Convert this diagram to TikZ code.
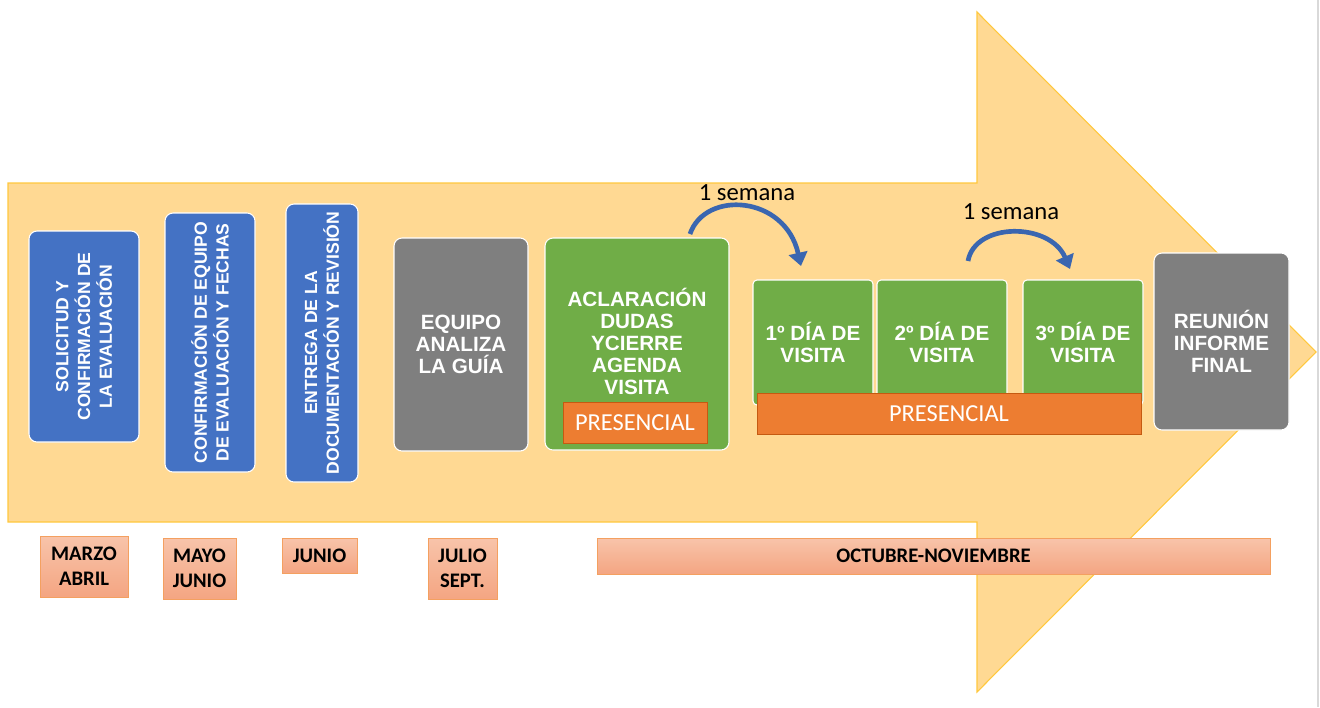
\documentclass[tikz,border=0pt]{standalone}
\usepackage{fontspec}
\setmainfont{Liberation Sans}
\newfontfamily\calibri{Carlito}
\usetikzlibrary{arrows.meta}

\definecolor{arrowfill}{HTML}{FFD993}
\definecolor{arrowedge}{HTML}{FFC83D}
\definecolor{stageblue}{HTML}{4472C4}
\definecolor{stagegray}{HTML}{7F7F7F}
\definecolor{stagegreen}{HTML}{70AD47}
\definecolor{orangefill}{HTML}{ED7D31}
\definecolor{orangeedge}{HTML}{C55A11}
\definecolor{periodtop}{HTML}{F8C4AA}
\definecolor{periodbot}{HTML}{F4A582}
\definecolor{periodedge}{HTML}{F4A060}
\definecolor{weekblue}{HTML}{3A66B0}

\tikzset{
  stage/.style={rounded corners=6pt, draw=white, line width=0.8pt, text=white,
    align=center, inner sep=0pt, font=\bfseries\fontsize{15.5}{16.5}\selectfont},
  bluestage/.style={stage, fill=stageblue, rotate=90, font=\bfseries\fontsize{13.2}{16.3}\selectfont},
  graystage/.style={stage, fill=stagegray},
  greenstage/.style={stage, fill=stagegreen},
  daystage/.style={greenstage, rounded corners=3pt},
  presencial/.style={draw=orangeedge, fill=orangefill, text=white, line width=0.6pt,
    inner sep=0pt, font=\calibri\fontsize{18.3}{19}\selectfont},
  period/.style={draw=periodedge, line width=0.6pt, top color=periodtop, bottom color=periodbot,
    align=center, inner sep=0pt, font=\calibri\bfseries\fontsize{15.5}{18.5}\selectfont},
  weekarrow/.style={draw=weekblue, line width=3.5pt, -{Triangle[length=10pt,width=14pt]}},
  weeklabel/.style={font=\calibri\fontsize{18.5}{19}\selectfont}
}

\begin{document}
\begin{tikzpicture}[x=0.75pt, y=-0.75pt]

    \useasboundingbox (0,0) rectangle (1320,707);

    % Big yellow arrow behind everything
    \draw[draw=arrowedge, fill=arrowfill, line width=0.8pt]
        (8,183) -- (977,183) -- (977,12) -- (1316,352) -- (977,692) -- (977,522) -- (8,522) -- cycle;
    \draw[black!15, line width=0.8pt] (1318,0) -- (1318,707);

    % Blue stages (vertical text)
    \node[bluestage, minimum width=158.25pt, minimum height=82.5pt] (solicitud) at (84,336.5)
        {SOLICITUD Y\\CONFIRMACIÓN DE\\LA EVALUACIÓN};
    \node[bluestage, minimum width=194.25pt, minimum height=67.5pt] (equipo) at (210,342.5)
        {CONFIRMACIÓN DE EQUIPO\\DE EVALUACIÓN Y FECHAS};
    \node[bluestage, minimum width=208.5pt, minimum height=54pt] (entrega) at (322,343)
        {ENTREGA DE LA\\DOCUMENTACIÓN Y REVISIÓN};

    % Gray and green stages
    \node[graystage, minimum width=100.5pt, minimum height=159.75pt] (analiza) at (461,344.5)
        {EQUIPO\\ANALIZA\\LA GUÍA};
    \node[greenstage, minimum width=138pt, minimum height=159pt] (aclara) at (637,344) {};
    \node[text=white, align=center, font=\bfseries\fontsize{15.5}{16.5}\selectfont] (aclaratxt) at (637,341)
        {ACLARACIÓN\\DUDAS\\YCIERRE\\AGENDA\\VISITA};
    \node[presencial, minimum width=108pt, minimum height=30.75pt] (pres1) at (635,422.5) {PRESENCIAL};

    % Visit days
    \node[daystage, minimum width=90pt, minimum height=93.75pt] (dia1) at (813,342.5) {1º DÍA DE\\VISITA};
    \node[daystage, minimum width=97.5pt, minimum height=93.75pt] (dia2) at (942,342.5) {2º DÍA DE\\VISITA};
    \node[daystage, minimum width=90pt, minimum height=93.75pt] (dia3) at (1083,342.5) {3º DÍA DE\\VISITA};
    \node[presencial, minimum width=288pt, minimum height=30.75pt] (pres2) at (949,413.5) {PRESENCIAL};

    \node[graystage, minimum width=101.25pt, minimum height=132.75pt] (reunion) at (1221.5,341.5)
        {REUNIÓN\\INFORME\\FINAL};

    % One-week jumps
    \coordinate (w1a) at (690,234);
    \coordinate (w1b) at (801,266);
    \coordinate (w2a) at (968,261);
    \coordinate (w2b) at (1070,269);
    \draw[weekarrow] (w1a) .. controls (705,190) and (785,195) .. (w1b);
    \draw[weekarrow] (w2a) .. controls (975,222) and (1050,222) .. (w2b);
    \node[weeklabel] (sem1) at (747,193) {1 semana};
    \node[weeklabel] (sem2) at (1011,212) {1 semana};

    % Periods under the arrow
    \node[period, minimum width=66pt, minimum height=45.75pt] (marzo) at (84,566.5) {MARZO\\ABRIL};
    \node[period, minimum width=54.75pt, minimum height=45.75pt] (mayo) at (199.5,568.5) {MAYO\\JUNIO};
    \node[period, minimum width=56.25pt, minimum height=26.25pt] (junio) at (319.5,555.5) {JUNIO};
    \node[period, minimum width=51.75pt, minimum height=45.75pt] (julio) at (462.5,568.5) {JULIO\\SEPT.};
    \node[period, minimum width=504.75pt, minimum height=27pt] (octubre) at (933.5,556) {OCTUBRE-NOVIEMBRE};

\end{tikzpicture}
\end{document}
